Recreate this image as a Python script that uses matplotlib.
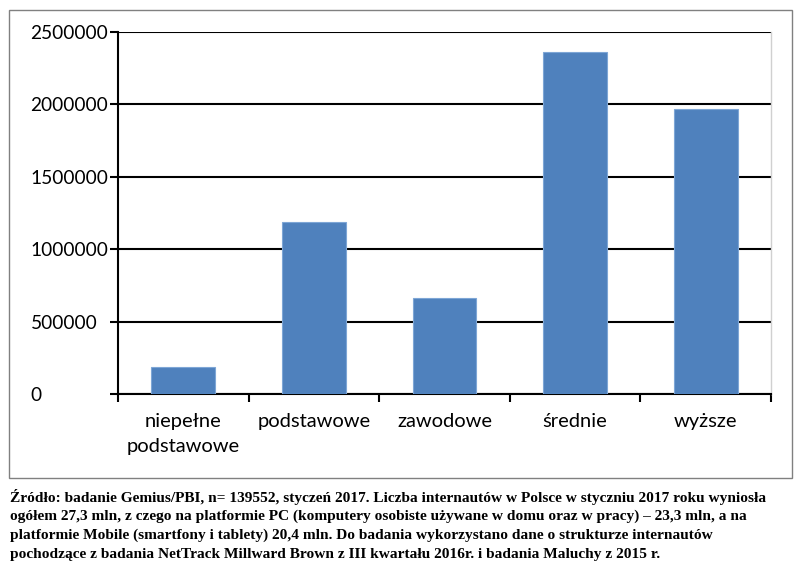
import matplotlib
matplotlib.use('Agg')
import matplotlib.pyplot as plt
from matplotlib.patches import Rectangle

categories = ['niepełne\npodstawowe', 'podstawowe', 'zawodowe', 'średnie', 'wyższe']
values = [186000, 1185000, 663000, 2362000, 1968000]
yticks = [0, 500000, 1000000, 1500000, 2000000, 2500000]

caption = [
    'Źródło: badanie Gemius/PBI, n= 139552, styczeń 2017. Liczba internautów w Polsce w styczniu 2017 roku wyniosła',
    'ogółem 27,3 mln, z czego na platformie PC (komputery osobiste używane w domu oraz w pracy) – 23,3 mln, a na',
    'platformie Mobile (smartfony i tablety) 20,4 mln. Do badania wykorzystano dane o strukturze internautów',
    'pochodzące z badania NetTrack Millward Brown z III kwartału 2016r. i badania Maluchy z 2015 r.',
]

W, H = 800, 580
fig = plt.figure(figsize=(8, 5.8), dpi=100)
ax = fig.add_axes([118 / W, 1 - 394 / H, (771 - 118) / W, (394 - 32) / H])

# outer frame around the chart
fig.patches.append(Rectangle((9 / W, 1 - 478 / H), 783 / W, 468 / H,
                             transform=fig.transFigure, fill=False,
                             edgecolor='#808080', linewidth=1.0))

x = range(len(categories))
ax.bar(x, values, width=0.49, color='#4f81bd', edgecolor='#7ea6d6', linewidth=0.8, zorder=3)

ax.set_xlim(-0.5, len(categories) - 0.5)
ax.set_ylim(0, 2500000)
ax.set_yticks(yticks)
ax.set_yticklabels([str(v) for v in yticks])
ax.yaxis.grid(True, color='black', linewidth=1.5, zorder=1)

ax.set_xticks(list(x))
ax.set_xticklabels(categories, linespacing=1.55)
ax.set_xticks([i - 0.5 for i in range(len(categories) + 1)], minor=True)
ax.tick_params(axis='x', which='major', length=0, pad=14, labelsize=14.5)
ax.tick_params(axis='x', which='minor', length=6, width=1.5, direction='out')
ax.tick_params(axis='y', length=6, width=1.5, direction='out', pad=57, labelsize=13.8)
for lab in ax.get_yticklabels():
    lab.set_horizontalalignment('left')
for lab in ax.get_xticklabels() + ax.get_yticklabels():
    lab.set_family('Lato')

for s in ['left', 'bottom']:
    ax.spines[s].set_linewidth(1.5)
    ax.spines[s].set_color('black')
ax.spines['top'].set_visible(False)
ax.spines['right'].set_color('#d0d0d0')
ax.spines['right'].set_linewidth(1.0)

for i, line in enumerate(caption):
    fig.text(10 / W, 1 - (497 + i * 19.3) / H, line, ha='left', va='center',
             family='Liberation Serif', weight='bold', fontsize=11.1)

fig.savefig('out.png', dpi=100)
